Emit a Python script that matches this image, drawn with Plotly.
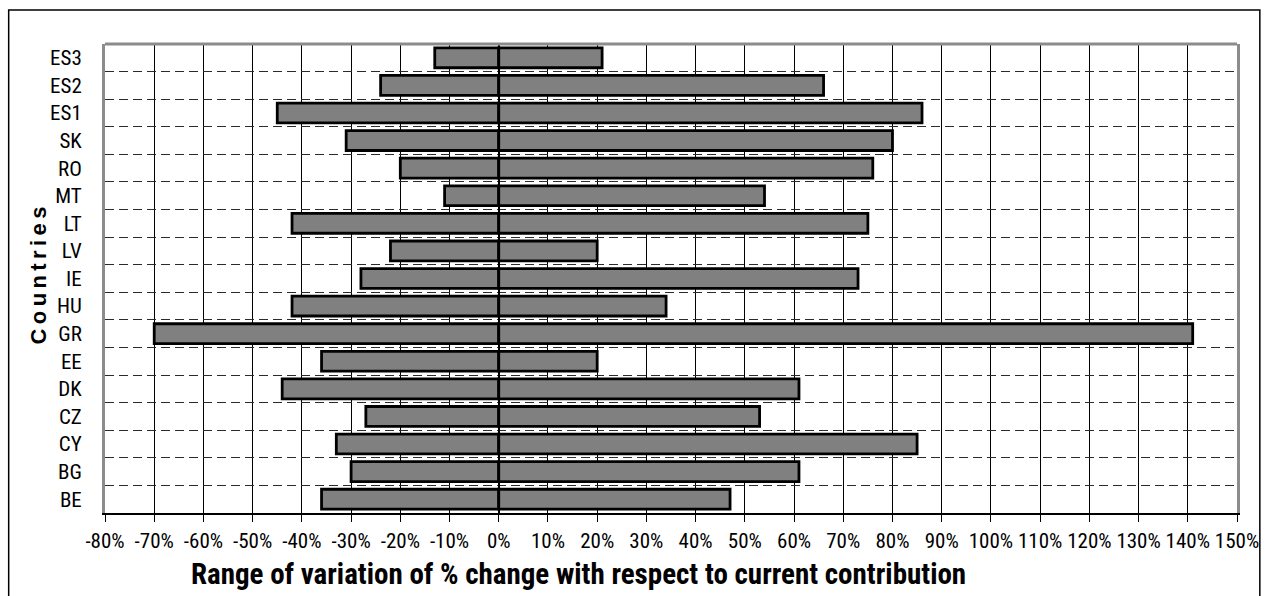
import plotly.graph_objects as go

# Range of variation of % change with respect to current contribution
countries = ["BE", "BG", "CY", "CZ", "DK", "EE", "GR", "HU", "IE", "LV",
             "LT", "MT", "RO", "SK", "ES1", "ES2", "ES3"]
low_pct = [-36, -30, -33, -27, -44, -36, -70, -42, -28, -22,
           -42, -11, -20, -31, -45, -24, -13]
high_pct = [47, 61, 85, 53, 61, 20, 141, 34, 73, 20,
            75, 54, 76, 80, 86, 66, 21]
x_ticks = list(range(-80, 151, 10))

NARROW = "Roboto Condensed, Liberation Sans, Arial, sans-serif"
BOLD = "Liberation Sans, Arial, sans-serif"

bar_style = dict(color="#808080", line=dict(color="#000000", width=2.8))

fig = go.Figure()
fig.add_trace(go.Bar(y=countries, x=low_pct, orientation="h", width=0.72,
                     marker=bar_style, showlegend=False))
fig.add_trace(go.Bar(y=countries, x=high_pct, orientation="h", width=0.72,
                     marker=bar_style, showlegend=False))

# plot frame geometry in pixels (page is 1271 x 596)
L, R, T, B = 105, 1245, 44, 513
W, H = R - L, B - T


def px(x):
    return (x - L) / W


def py(y):
    return (B - y) / H


fig.update_layout(
    width=1271, height=596,
    margin=dict(l=L, r=1271 - R, t=T, b=596 - B, pad=0),
    barmode="relative",
    paper_bgcolor="white",
    plot_bgcolor="white",
    font=dict(family=NARROW, color="#000000"),
    xaxis=dict(
        range=[-80, 150],
        tickvals=x_ticks,
        ticktext=[f"{v}%" for v in x_ticks],
        tickfont=dict(family=NARROW, size=21, color="#000000"),
        ticklabelstandoff=1,
        showgrid=True, gridcolor="#000000", gridwidth=1.4,
        zeroline=True, zerolinecolor="#000000", zerolinewidth=2,
        showline=True, linecolor="#000000", linewidth=2,
        ticks="outside", ticklen=7, tickcolor="#000000", tickwidth=1.4,
        fixedrange=True,
    ),
    yaxis=dict(
        type="category",
        categoryorder="array", categoryarray=countries,
        tickson="boundaries",
        tickfont=dict(family=NARROW, size=21, color="#000000"),
        ticks="", ticklabelstandoff=16,
        showgrid=True, gridcolor="#2a2a2a", gridwidth=1.4, griddash="9px,5px",
        showline=True, linecolor="#8c8c8c", linewidth=3, mirror=True,
        fixedrange=True,
    ),
    shapes=[
        # top edge of the plot frame
        dict(type="line", xref="paper", yref="paper", x0=0, x1=1, y0=1, y1=1,
             line=dict(color="#8c8c8c", width=3), layer="above"),
        # outer chart border
        dict(type="rect", xref="paper", yref="paper",
             x0=px(8), x1=px(1268), y0=py(640), y1=py(10),
             line=dict(color="#000000", width=1.5), layer="below"),
    ],
    annotations=[
        dict(text="Range of variation of % change with respect to current contribution",
             xref="paper", yref="paper", x=px(582), y=py(574),
             xanchor="center", yanchor="middle", showarrow=False,
             font=dict(family=NARROW, size=29, color="#000000", weight="bold")),
        dict(text="C\u2009o\u2009u\u2009n\u2009t\u2009r\u2009i\u2009e\u2009s",
             xref="paper", yref="paper", x=px(38), y=py(275),
             xanchor="center", yanchor="middle", showarrow=False, textangle=-90,
             font=dict(family=BOLD, size=22, color="#000000", weight="bold")),
    ],
)

fig.write_html("out.html")
